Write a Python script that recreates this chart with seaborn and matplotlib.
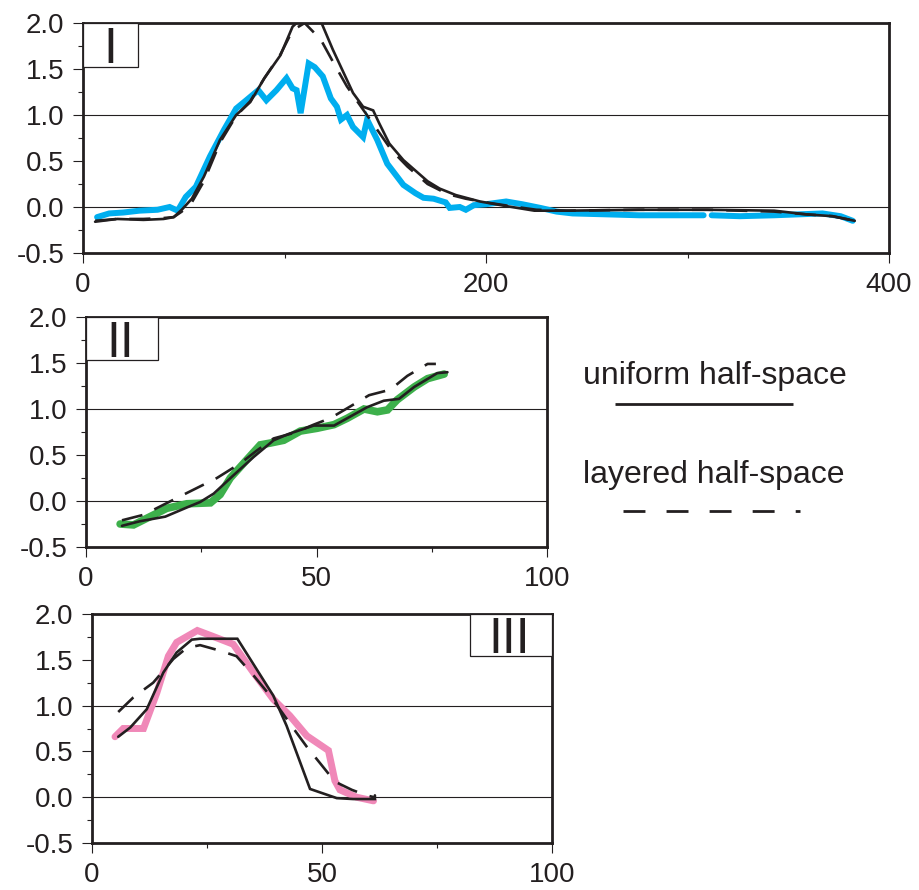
import numpy as np
import pandas as pd
import matplotlib
matplotlib.use("Agg")
import matplotlib.pyplot as plt
import seaborn as sns
from matplotlib.patches import Rectangle
from matplotlib.lines import Line2D
from matplotlib.ticker import MultipleLocator, FormatStrFormatter

# ---------------- data ----------------
# Panel I
p1_obs_x = [7, 13, 20, 28, 37, 43, 47, 51, 56, 63, 70, 76, 81, 87, 91, 96, 101, 104, 106, 108,
            112, 115, 119, 123, 126, 128, 131, 134, 139, 141, 146, 151, 159, 165, 169, 174, 177,
            180, 182, 187, 190, 194, 200, 210, 218, 227, 235, 243, 260, 276, 292, 308, 310, 312,
            326, 343, 355, 367, 376, 382]
p1_obs_y = [-0.11, -0.07, -0.06, -0.04, -0.03, 0.0, -0.04, 0.11, 0.22, 0.55, 0.84, 1.07, 1.16,
            1.27, 1.16, 1.27, 1.40, 1.29, 1.27, 1.02, 1.56, 1.52, 1.42, 1.18, 1.09, 0.95, 1.0,
            0.87, 0.76, 0.95, 0.73, 0.47, 0.24, 0.15, 0.10, 0.09, 0.07, 0.05, -0.01, 0.0, -0.03,
            0.02, 0.03, 0.06, 0.03, -0.01, -0.05, -0.07, -0.08, -0.09, -0.09, -0.09, np.nan,
            -0.09, -0.10, -0.09, -0.08, -0.07, -0.10, -0.15]
p1_uni_x = [6, 17, 30, 40, 45, 49, 54, 60, 68, 76, 83, 90, 98, 104, 110, 114, 118, 124, 134, 139,
            144, 147, 152, 159, 171, 177, 185, 197, 210, 224, 240, 276, 310, 343, 359, 372, 383]
p1_uni_y = [-0.16, -0.13, -0.14, -0.13, -0.11, -0.03, 0.09, 0.33, 0.73, 1.0, 1.14, 1.40, 1.65,
            1.96, 2.08, 2.08, 2.02, 1.71, 1.24, 1.09, 1.05, 0.91, 0.69, 0.51, 0.28, 0.20, 0.13,
            0.06, 0.01, -0.04, -0.04, -0.03, -0.03, -0.04, -0.08, -0.10, -0.15]
p1_lay_x = [6, 17, 30, 40, 45, 49, 54, 60, 68, 76, 83, 90, 98, 104, 110, 118, 124, 131, 138, 146,
            153, 161, 171, 181, 190, 200, 212, 225, 240, 276, 310, 343, 359, 372, 383]
p1_lay_y = [-0.15, -0.13, -0.13, -0.12, -0.11, -0.05, 0.05, 0.28, 0.70, 0.99, 1.15, 1.40, 1.66,
            1.92, 2.0, 1.82, 1.58, 1.31, 1.09, 0.84, 0.62, 0.44, 0.25, 0.14, 0.09, 0.05, 0.01,
            -0.03, -0.04, -0.03, -0.03, -0.05, -0.08, -0.10, -0.15]

# Panel II
p2_obs_x = [7.4, 10.3, 13.9, 17.5, 21.9, 27, 29.1, 31.3, 34.9, 37.8, 40, 42.9, 46.5, 50.1, 53.8,
            56.7, 60.3, 63.2, 65.4, 67.5, 71.2, 74.1, 77.7]
p2_obs_y = [-0.25, -0.26, -0.17, -0.08, -0.03, -0.02, 0.07, 0.25, 0.45, 0.61, 0.63, 0.66, 0.76,
            0.79, 0.83, 0.90, 1.0, 0.97, 0.99, 1.10, 1.24, 1.33, 1.38]
p2_uni_x = [7.8, 11.7, 17.2, 21.9, 24.8, 27.7, 32, 36.4, 40.7, 44, 49.4, 53.8, 57.4, 61, 64.6,
            67.9, 71.2, 76.2, 78.4]
p2_uni_y = [-0.27, -0.22, -0.17, -0.07, -0.01, 0.08, 0.28, 0.48, 0.66, 0.73, 0.82, 0.82, 0.92,
            1.02, 1.09, 1.11, 1.24, 1.39, 1.40]
p2_lay_x = [7.8, 12.5, 20.4, 24.8, 28.4, 33.5, 37.1, 40.7, 45.1, 49.4, 53, 57.4, 61.4, 66, 69.7,
            74.1, 75.9]
p2_lay_y = [-0.21, -0.15, 0.05, 0.16, 0.25, 0.41, 0.55, 0.68, 0.74, 0.83, 0.90, 1.03, 1.15, 1.21,
            1.36, 1.49, 1.49]

# Panel III
p3_obs_x = [5, 6.8, 11.2, 14.1, 16.6, 18.4, 22.9, 27.1, 30.7, 35.1, 39.4, 43, 46.7, 51.4, 52.8,
            53.9, 57.5, 61.2]
p3_obs_y = [0.66, 0.75, 0.75, 1.14, 1.54, 1.69, 1.82, 1.74, 1.67, 1.36, 1.07, 0.89, 0.67, 0.51,
            0.18, 0.08, 0.0, -0.04]
p3_uni_x = [5.7, 8.3, 11.9, 15.5, 18.4, 21.7, 23.5, 31.6, 39.4, 42.3, 47.4, 53.2, 56.8, 61.5, 61.5]
p3_uni_y = [0.66, 0.76, 0.96, 1.36, 1.58, 1.72, 1.73, 1.73, 1.11, 0.78, 0.09, -0.01, -0.02, -0.02,
            0.02]
p3_lay_x = [5.7, 9, 13.3, 17.7, 20.6, 23.5, 27.8, 31.4, 35.1, 38.7, 43.8, 46.7, 49.6, 52.8, 56.5,
            59.7, 61.3]
p3_lay_y = [0.93, 1.09, 1.25, 1.51, 1.63, 1.66, 1.60, 1.54, 1.33, 1.11, 0.75, 0.55, 0.37, 0.17,
            0.08, 0.02, 0.0]

panel_labels = ["I", "II", "III"]
legend_labels = ["uniform half-space", "layered half-space"]
grid_y = [0.0, 1.0, 2.0]
obs_colors = ["#00AEEF", "#3DB04B", "#F088B8"]

# ---------------- style ----------------
sns.set_style("white")
plt.rcParams["font.family"] = ["Liberation Sans", "DejaVu Sans"]
plt.rcParams["axes.unicode_minus"] = False
INK = "#231f20"

fig = plt.figure(figsize=(9.19, 8.9), dpi=100)
W, H = 919.0, 890.0


def add_ax(l, t, r, b):
    return fig.add_axes([l / W, 1 - b / H, (r - l) / W, (b - t) / H])


ax1 = add_ax(83, 23, 889, 253)
ax2 = add_ax(86, 317, 547, 547)
ax3 = add_ax(92, 614, 552, 843)


def to_df(x, y):
    y = np.asarray(y, dtype=float)
    seg = np.cumsum(np.isnan(y))
    return pd.DataFrame({"x": x, "y": y, "seg": seg}).dropna()


def draw(ax, ox, oy, ux, uy, lx, ly, color, obs_lw):
    sns.lineplot(data=to_df(ox, oy), x="x", y="y", units="seg", estimator=None, sort=False,
                 ax=ax, color=color, lw=obs_lw, solid_joinstyle="miter", zorder=3)
    sns.lineplot(data=to_df(ux, uy), x="x", y="y", estimator=None, sort=False, ax=ax,
                 color=INK, lw=1.9, solid_joinstyle="miter", zorder=4)
    sns.lineplot(data=to_df(lx, ly), x="x", y="y", estimator=None, sort=False, ax=ax,
                 color=INK, lw=1.9, linestyle=(0, (8, 5)), zorder=4)


draw(ax1, p1_obs_x, p1_obs_y, p1_uni_x, p1_uni_y, p1_lay_x, p1_lay_y, obs_colors[0], 4.3)
draw(ax2, p2_obs_x, p2_obs_y, p2_uni_x, p2_uni_y, p2_lay_x, p2_lay_y, obs_colors[1], 5.5)
draw(ax3, p3_obs_x, p3_obs_y, p3_uni_x, p3_uni_y, p3_lay_x, p3_lay_y, obs_colors[2], 5.0)


def style(ax, xmax, xmaj, xmin):
    ax.set_xlim(0, xmax)
    ax.set_ylim(-0.5, 2.0)
    ax.set_xlabel("")
    ax.set_ylabel("")
    ax.xaxis.set_major_locator(MultipleLocator(xmaj))
    ax.xaxis.set_minor_locator(MultipleLocator(xmin))
    ax.yaxis.set_major_locator(MultipleLocator(0.5))
    ax.yaxis.set_minor_locator(MultipleLocator(0.25))
    ax.yaxis.set_major_formatter(FormatStrFormatter("%.1f"))
    ax.xaxis.set_major_formatter(FormatStrFormatter("%d"))
    for s in ax.spines.values():
        s.set_visible(True)
        s.set_linewidth(2.0)
        s.set_color(INK)
    ax.tick_params(which="both", direction="out", bottom=True, left=True, top=False, right=False,
                   color=INK, width=0.8)
    ax.tick_params(which="major", length=7.5, labelsize=20, labelcolor=INK, pad=6)
    ax.tick_params(which="minor", length=3.5)
    for g in grid_y:
        ax.axhline(g, color=INK, lw=0.8, zorder=1)


style(ax1, 400, 200, 100)
style(ax2, 100, 50, 25)
style(ax3, 100, 50, 25)

# panel label boxes (axes fraction)
boxes = [
    (ax1, (0.0, 0.809), 0.068, 0.191, 0.034, 0.826),
    (ax2, (0.0, 0.813), 0.156, 0.187, 0.074, 0.826),
    (ax3, (0.822, 0.817), 0.178, 0.183, 0.907, 0.83),
]
for (ax, xy, w, h, tx, ty), lab in zip(boxes, panel_labels):
    ax.add_patch(Rectangle(xy, w, h, transform=ax.transAxes, facecolor="white",
                           edgecolor=INK, lw=0.9, zorder=6, clip_on=False))
    ax.text(tx, ty, lab, transform=ax.transAxes, ha="center", va="baseline",
            fontsize=36, color=INK, zorder=7)

# legend drawn at the right of panel II
fig.text(583 / W, 1 - 384 / H, legend_labels[0], fontsize=23, color=INK, va="baseline")
fig.text(583 / W, 1 - 483 / H, legend_labels[1], fontsize=23, color=INK, va="baseline")
fig.add_artist(Line2D([615 / W, 793 / W], [1 - 404 / H, 1 - 404 / H], color=INK, lw=2.0,
                      solid_capstyle="butt", transform=fig.transFigure))
fig.add_artist(Line2D([623 / W, 800 / W], [1 - 511 / H, 1 - 511 / H], color=INK, lw=2.0,
                      linestyle=(0, (7.9, 7.6)), dash_capstyle="butt",
                      transform=fig.transFigure))

fig.savefig("out.png", dpi=100)
